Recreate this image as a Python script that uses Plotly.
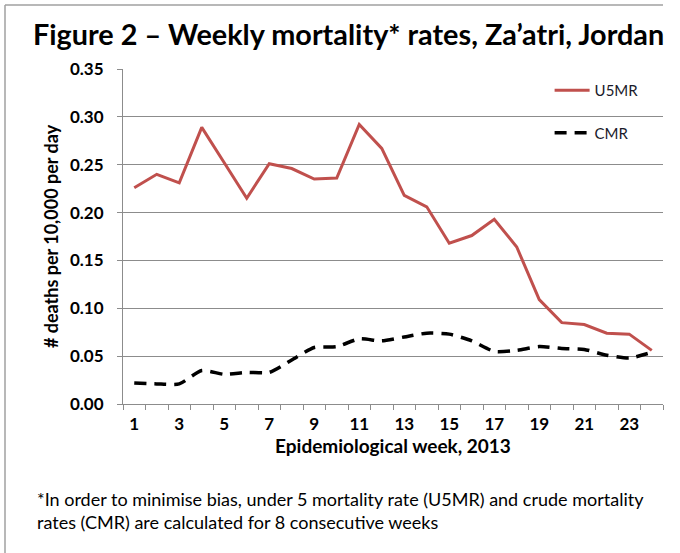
import plotly.graph_objects as go

weeks = list(range(1, 25))
u5mr = [0.226, 0.240, 0.231, 0.289, 0.252, 0.215, 0.251, 0.246, 0.235, 0.236, 0.292, 0.267,
        0.218, 0.206, 0.168, 0.176, 0.193, 0.164, 0.109, 0.085, 0.083, 0.074, 0.073, 0.056]
cmr = [0.022, 0.021, 0.021, 0.035, 0.031, 0.033, 0.033, 0.046, 0.059, 0.060, 0.068, 0.066,
       0.070, 0.074, 0.073, 0.066, 0.055, 0.056, 0.060, 0.058, 0.057, 0.051, 0.048, 0.054]
x_tick_labels = [str(w) for w in range(1, 25, 2)]
y_ticks = [0.0, 0.05, 0.10, 0.15, 0.20, 0.25, 0.30, 0.35]

FONT = "Lato"

fig = go.Figure()
fig.add_trace(go.Scatter(x=weeks, y=u5mr, mode="lines", name="U5MR",
                         line=dict(color="#C0504D", width=3), legendgroup="a"))
fig.add_trace(go.Scatter(x=weeks, y=cmr, mode="lines", name="CMR",
                         line=dict(color="#000000", width=3.5, dash="12px,8px", shape="spline", smoothing=0.6),
                         legendgroup="b"))

fig.update_layout(
    width=680, height=553,
    margin=dict(l=123, r=17, t=69, b=149),
    paper_bgcolor="white", plot_bgcolor="white",
    font=dict(family=FONT, color="#000000"),
    showlegend=True,
    legend=dict(x=0.79, y=0.985, xanchor="left", yanchor="top",
                bgcolor="rgba(0,0,0,0)", font=dict(size=15, family=FONT, color="#1a1a2a"),
                tracegroupgap=20, itemwidth=35),
    xaxis=dict(
        range=[0.5, 24.5], showgrid=False, zeroline=False,
        showline=True, linecolor="#8c8c8c", linewidth=1,
        tickvals=list(range(1, 25, 2)), ticktext=x_tick_labels, ticks="",
        tickfont=dict(size=17, family=FONT, color="#000000", weight="bold"),
        ticklabelstandoff=5,
        minor=dict(tickvals=[w + 0.5 for w in range(0, 25)], ticks="outside", ticklen=5,
                   tickcolor="#8c8c8c", showgrid=False),
        title=dict(text="Epidemiological week, 2013", standoff=2,
                   font=dict(size=19, family=FONT, color="#000000", weight="bold")),
    ),
    yaxis=dict(
        range=[0, 0.35], tickvals=y_ticks, tickformat=".2f",
        showgrid=True, gridcolor="#8c8c8c", gridwidth=1, zeroline=False,
        showline=True, linecolor="#8c8c8c", linewidth=1,
        ticks="outside", ticklen=5, tickcolor="#8c8c8c",
        tickfont=dict(size=17, family=FONT, color="#000000", weight="bold"),
        ticklabelstandoff=10,
        title=dict(text="# deaths per 10,000 per day", standoff=6,
                   font=dict(size=18, family=FONT, color="#000000", weight="bold")),
    ),
)

fig.add_annotation(text="Figure 2 – Weekly mortality* rates, Za’atri, Jordan",
                   xref="paper", yref="paper", x=(348 - 123) / 540, y=(404 - 34) / 335,
                   xanchor="center", yanchor="middle", showarrow=False,
                   font=dict(size=28.8, family=FONT, color="#000000", weight="bold"))
fig.add_annotation(text="*In order to minimise bias, under 5 mortality rate (U5MR) and crude mortality<br>rates (CMR) are calculated for 8 consecutive weeks",
                   xref="paper", yref="paper", x=(35 - 123) / 540, y=(404 - 486) / 335,
                   xanchor="left", yanchor="top", align="left", showarrow=False,
                   font=dict(size=18, family=FONT, color="#000000"))

# frame lines (top and left border of the original figure)
fig.add_shape(type="line", xref="paper", yref="paper",
              x0=(5 - 123) / 540, x1=(663 - 123) / 540, y0=(404 - 5) / 335, y1=(404 - 5) / 335,
              line=dict(color="#a0a0a0", width=1.5))
fig.add_shape(type="line", xref="paper", yref="paper",
              x0=(5 - 123) / 540, x1=(5 - 123) / 540, y0=(404 - 5) / 335, y1=(404 - 553) / 335,
              line=dict(color="#a0a0a0", width=1.5))

fig.write_html("out.html", config={"displayModeBar": False},
               post_script="document.body.style.margin='0';")
